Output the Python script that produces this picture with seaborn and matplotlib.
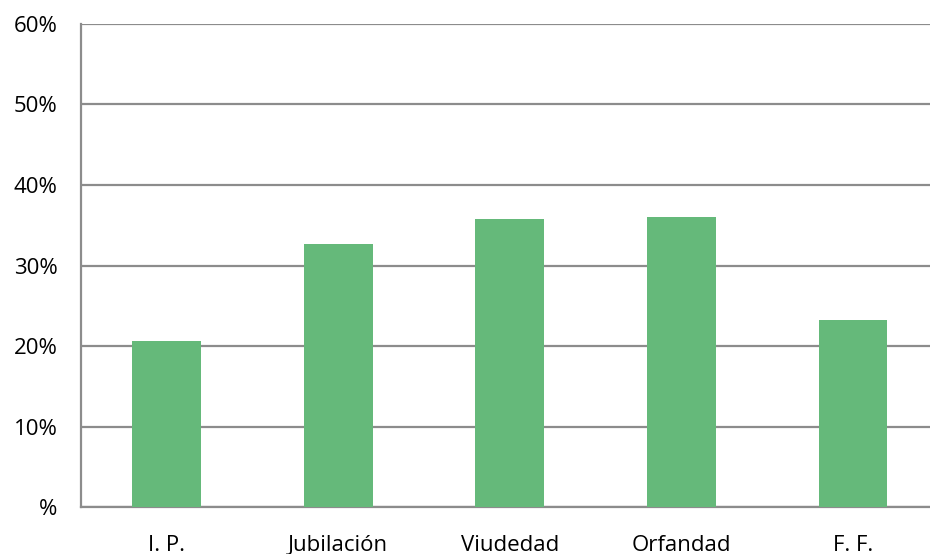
import matplotlib
matplotlib.use('Agg')
import matplotlib.pyplot as plt
import pandas as pd
import seaborn as sns

# Datos del gráfico
categorias = ['I. P.', 'Jubilación', 'Viudedad', 'Orfandad', 'F. F.']
porcentajes = [20.6, 32.7, 35.8, 36.0, 23.2]
etiquetas_y = ['%', '10%', '20%', '30%', '40%', '50%', '60%']

df = pd.DataFrame({'categoria': categorias, 'valor': porcentajes})

sns.set_style('white')
plt.rcParams['font.family'] = ['Open Sans', 'DejaVu Sans']

gris = '#8c8c8c'
fig = plt.figure(figsize=(9.3, 5.54), dpi=100)
ax = fig.add_axes([0.0871, 0.0848, 0.9129, 0.8719])

sns.barplot(data=df, x='categoria', y='valor', color='#65b97a', saturation=1,
            width=0.4, linewidth=0, ax=ax, zorder=3)

ax.set_ylim(0, 60)
ax.set_yticks(range(0, 61, 10))
ax.set_yticklabels(etiquetas_y)
ax.yaxis.grid(True, color=gris, linewidth=1.6, zorder=0)

# marcas en los límites entre categorías
ax.set_xticks([i - 0.5 for i in range(6)], minor=True)
ax.set_xlim(-0.5, 4.45)
ax.tick_params(axis='x', which='minor', length=6, width=1.2, color=gris, direction='out')
ax.tick_params(axis='x', which='major', length=0, pad=20, labelsize=16, labelcolor='black')
ax.tick_params(axis='y', length=6, width=1.2, color=gris, direction='out', pad=11,
               labelsize=16, labelcolor='black')

for lado in ['top', 'right']:
    ax.spines[lado].set_visible(False)
for lado in ['left', 'bottom']:
    ax.spines[lado].set_color(gris)
    ax.spines[lado].set_linewidth(1.6)

ax.set_xlabel('')
ax.set_ylabel('')

fig.savefig('out.png', dpi=100)
